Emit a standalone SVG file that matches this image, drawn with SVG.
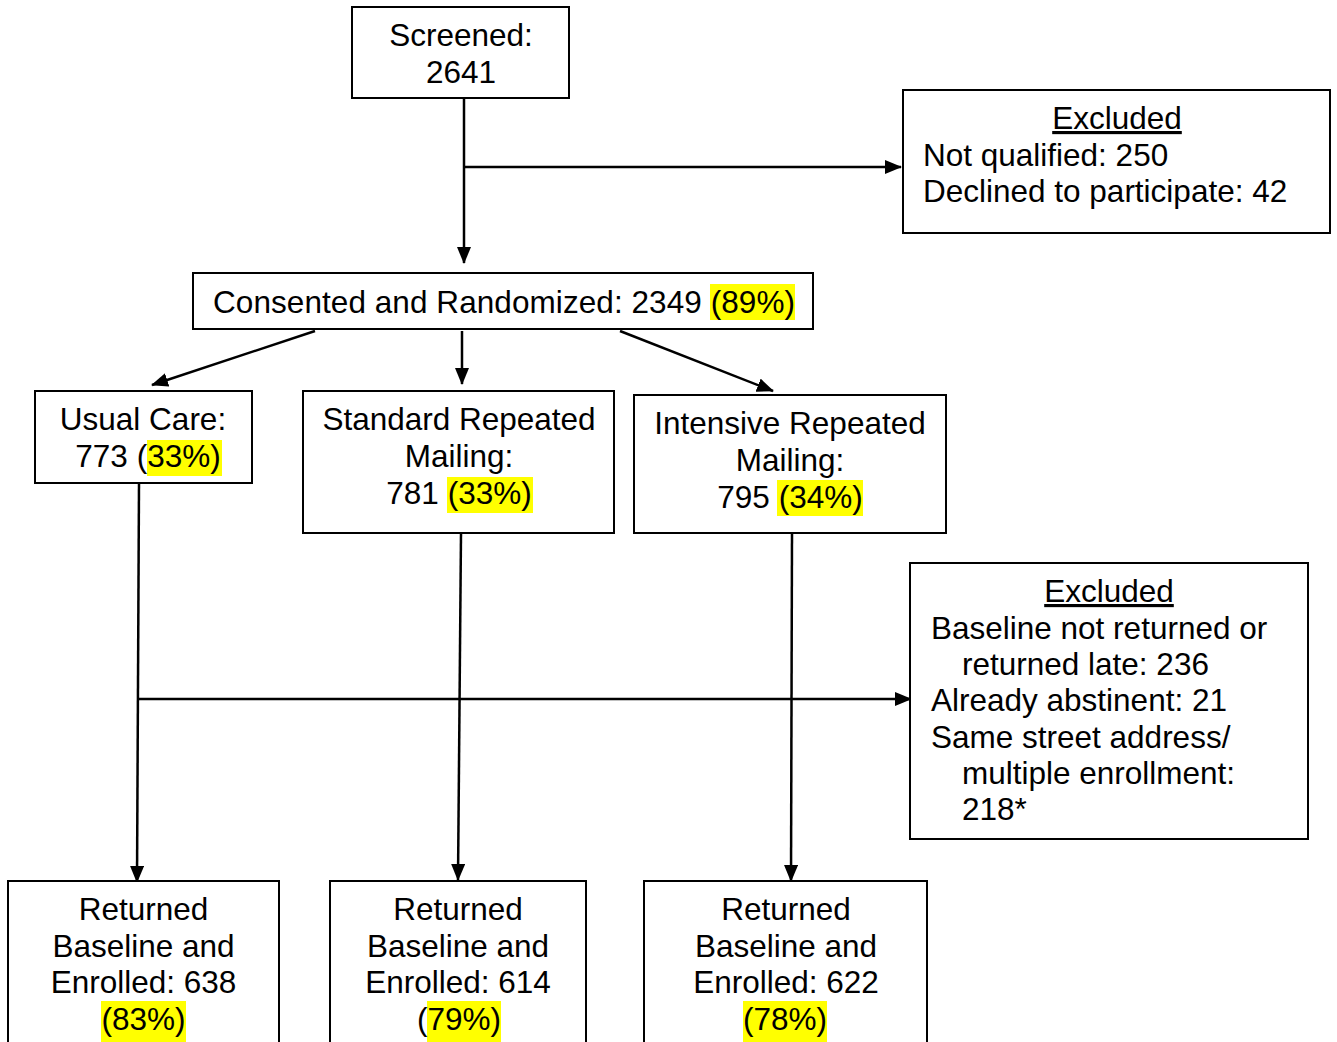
<svg xmlns="http://www.w3.org/2000/svg" width="1337" height="1042" viewBox="0 0 1337 1042">
<style>
.box{fill:#fff;stroke:#000;stroke-width:2}
.t{font-family:"Liberation Sans",Arial,sans-serif;font-size:31.5px;fill:#000}
.c{text-anchor:middle}
.hl{fill:#ffff00}
.ln{stroke:#000;stroke-width:2.5;fill:none}
</style>
<defs>
<marker id="ah" markerUnits="userSpaceOnUse" markerWidth="17" markerHeight="14" refX="16" refY="7" orient="auto">
<path d="M0,0 L17,7 L0,14 Z" fill="#000"/>
</marker>
</defs>
<g id="connectors">
<line class="ln" x1="464" y1="98" x2="464" y2="263" marker-end="url(#ah)"/>
<line class="ln" x1="464" y1="167" x2="901" y2="167" marker-end="url(#ah)"/>
<line class="ln" x1="315" y1="331" x2="152" y2="385" marker-end="url(#ah)"/>
<line class="ln" x1="462" y1="331" x2="462" y2="384" marker-end="url(#ah)"/>
<line class="ln" x1="620" y1="331" x2="773" y2="391" marker-end="url(#ah)"/>
<line class="ln" x1="139" y1="483" x2="137" y2="882" marker-end="url(#ah)"/>
<line class="ln" x1="461" y1="533" x2="458" y2="880" marker-end="url(#ah)"/>
<line class="ln" x1="792" y1="533" x2="791" y2="881" marker-end="url(#ah)"/>
<line class="ln" x1="137" y1="699" x2="911" y2="699" marker-end="url(#ah)"/>
</g>
<g id="screened">
<rect class="box" x="352" y="7" width="217" height="91"/>
<text class="t c" x="461" y="46">Screened:</text>
<text class="t c" x="461" y="83">2641</text>
</g>
<g id="excluded1">
<rect class="box" x="903" y="90" width="427" height="143"/>
<text class="t c" x="1117" y="129" text-decoration="underline">Excluded</text>
<text class="t" x="923" y="166">Not qualified: 250</text>
<text class="t" x="923" y="202">Declined to participate: 42</text>
</g>
<g id="consented">
<rect class="box" x="193" y="273" width="620" height="56"/>
<rect class="hl" x="710" y="284" width="85" height="36"/>
<text class="t" x="213" y="313" textLength="582" lengthAdjust="spacing">Consented and Randomized: 2349 (89%)</text>
</g>
<g id="usualcare">
<rect class="box" x="35" y="391" width="217" height="92"/>
<rect class="hl" x="147" y="440" width="75" height="36"/>
<text class="t c" x="143" y="430">Usual Care:</text>
<text class="t c" x="148" y="467">773 (33%)</text>
</g>
<g id="standard">
<rect class="box" x="303" y="391" width="311" height="142"/>
<rect class="hl" x="447" y="477" width="86" height="36"/>
<text class="t c" x="459" y="430">Standard Repeated</text>
<text class="t c" x="459" y="467">Mailing:</text>
<text class="t c" x="459" y="504">781 (33%)</text>
</g>
<g id="intensive">
<rect class="box" x="634" y="395" width="312" height="138"/>
<rect class="hl" x="777" y="480" width="86" height="36"/>
<text class="t c" x="790" y="434">Intensive Repeated</text>
<text class="t c" x="790" y="471">Mailing:</text>
<text class="t c" x="790" y="508">795 (34%)</text>
</g>
<g id="excluded2">
<rect class="box" x="910" y="563" width="398" height="276"/>
<text class="t c" x="1109" y="602" text-decoration="underline">Excluded</text>
<text class="t" x="931" y="639">Baseline not returned or</text>
<text class="t" x="962" y="675">returned late: 236</text>
<text class="t" x="931" y="711">Already abstinent: 21</text>
<text class="t" x="931" y="748">Same street address/</text>
<text class="t" x="962" y="784">multiple enrollment:</text>
<text class="t" x="962" y="820">218*</text>
</g>
<g id="enrolled1">
<rect class="box" x="8" y="881" width="271" height="165"/>
<rect class="hl" x="101" y="1001" width="85" height="41"/>
<text class="t c" x="143.5" y="920">Returned</text>
<text class="t c" x="143.5" y="957">Baseline and</text>
<text class="t c" x="143.5" y="993">Enrolled: 638</text>
<text class="t c" x="143.5" y="1030">(83%)</text>
</g>
<g id="enrolled2">
<rect class="box" x="330" y="881" width="256" height="165"/>
<rect class="hl" x="427" y="1001" width="74" height="41"/>
<text class="t c" x="458" y="920">Returned</text>
<text class="t c" x="458" y="957">Baseline and</text>
<text class="t c" x="458" y="993">Enrolled: 614</text>
<text class="t c" x="459" y="1030">(79%)</text>
</g>
<g id="enrolled3">
<rect class="box" x="644" y="881" width="283" height="165"/>
<rect class="hl" x="743" y="1001" width="84" height="41"/>
<text class="t c" x="786" y="920">Returned</text>
<text class="t c" x="786" y="957">Baseline and</text>
<text class="t c" x="786" y="993">Enrolled: 622</text>
<text class="t c" x="785" y="1030">(78%)</text>
</g>
</svg>
